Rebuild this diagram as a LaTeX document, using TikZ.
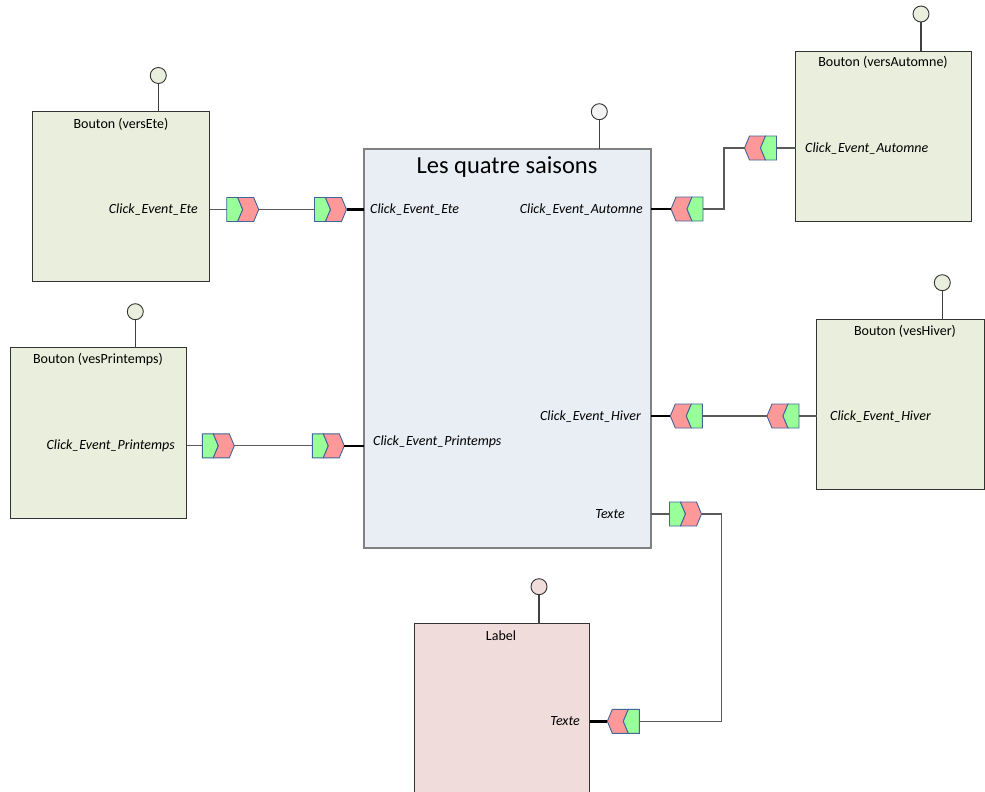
\documentclass[tikz,border=0pt]{standalone}
\usepackage{fontspec}
\setmainfont{Carlito}
\usetikzlibrary{calc}
\definecolor{boxgreen}{HTML}{E9EFDC}
\definecolor{boxblue}{HTML}{E9EDF4}
\definecolor{boxpink}{HTML}{F0DCDA}
\definecolor{pgreen}{HTML}{99FF99}
\definecolor{pred}{HTML}{FF9999}
\definecolor{pline}{HTML}{41659A}
\definecolor{cline}{HTML}{5A5A5A}
\tikzset{
  comp/.style={draw=black!80, line width=1pt, anchor=north west, inner sep=0pt, outer sep=0pt},
  centralbox/.style={draw=black!50, line width=2pt, anchor=north west, inner sep=0pt, outer sep=0pt, fill=boxblue},
  lolli/.style={circle, draw=black!80, line width=0.9pt, minimum size=16pt, inner sep=0pt, outer sep=0pt},
  stem/.style={draw=black!75, line width=1.1pt},
  portnode/.style={rectangle, minimum width=32pt, minimum height=24pt, inner sep=0pt, outer sep=0pt},
  portline/.style={draw=pline, line width=0.9pt, line join=miter},
  thinc/.style={draw=cline, line width=1.1pt},
  thickc/.style={draw=black, line width=2.4pt},
  titletext/.style={font=\fontsize{14}{16}\selectfont, inner sep=0pt},
  porttext/.style={font=\fontsize{14}{16}\selectfont\itshape, inner sep=0pt},
}
\newcommand\portR[2]{%
  \node[portnode] (#1) at (#2) {};
  \filldraw[portline, fill=pgreen] ($(#1.center)+(-16,-12)$) -- ++(11,0) -- ++(5,12) -- ++(-5,12) -- ++(-11,0) -- cycle;
  \filldraw[portline, fill=pred] ($(#1.center)+(-5,-12)$) -- ++(16,0) -- ++(5,12) -- ++(-5,12) -- ++(-16,0) -- ++(5,-12) -- cycle;
}
\newcommand\portL[2]{%
  \node[portnode] (#1) at (#2) {};
  \filldraw[portline, fill=pred] ($(#1.center)+(-16,0)$) -- ++(5,-12) -- ++(16,0) -- ++(-5,12) -- ++(5,12) -- ++(-16,0) -- cycle;
  \filldraw[portline, fill=pgreen] ($(#1.center)+(5,-12)$) -- ++(11,0) -- ++(0,24) -- ++(-11,0) -- ++(-5,-12) -- cycle;
}
\begin{document}
\begin{tikzpicture}[x=1pt, y=-1pt]
\useasboundingbox (0,0) rectangle (985,792);
\clip (0,0) rectangle (985,792);

% components
\node[comp, fill=boxgreen, minimum width=177pt, minimum height=170pt] (bEte) at (32.5,111.5) {};
\node[comp, fill=boxgreen, minimum width=176pt, minimum height=171pt] (bPri) at (10.5,347.5) {};
\node[centralbox, minimum width=287pt, minimum height=399pt] (cen) at (364,149) {};
\node[comp, fill=boxgreen, minimum width=176pt, minimum height=170pt] (bAut) at (795.5,51.5) {};
\node[comp, fill=boxgreen, minimum width=168pt, minimum height=170pt] (bHiv) at (816.5,319.5) {};
\node[comp, fill=boxpink, minimum width=175pt, minimum height=200pt] (bLab) at (414.5,623.5) {};

% lollipops
\node[lolli, fill=boxgreen] (lEte) at (158.3,75.5) {};
\node[lolli, fill=boxgreen] (lPri) at (135.3,311.7) {};
\node[lolli, fill=white!95!black] (lCen) at (599.3,111.7) {};
\node[lolli, fill=boxgreen] (lAut) at (921,14) {};
\node[lolli, fill=boxgreen] (lHiv) at (942.3,282.7) {};
\node[lolli, fill=boxpink] (lLab) at (539,586.7) {};
\draw[stem] (lEte.south) -- (lEte.south |- bEte.north);
\draw[stem] (lPri.south) -- (lPri.south |- bPri.north);
\draw[stem] (lCen.south) -- (lCen.south |- cen.north);
\draw[stem] (lAut.south) -- (lAut.south |- bAut.north);
\draw[stem] (lHiv.south) -- (lHiv.south |- bHiv.north);
\draw[stem] (lLab.south) -- (lLab.south |- bLab.north);

% titles
\node[titletext] (tEte) at (121,124) {Bouton (versEte)};
\node[titletext] (tPri) at (98,360) {Bouton (vesPrintemps)};
\node[titletext] (tAut) at (883,62) {Bouton (versAutomne)};
\node[titletext] (tHiv) at (905,331) {Bouton (vesHiver)};
\node[titletext] (tLab) at (501,636) {Label};
\node[font=\fontsize{24.5}{28}\selectfont, inner sep=0pt] (tCen) at (507,167) {Les quatre saisons};

% port labels
\node[porttext, anchor=east] (pEte) at (198,210) {Click\_Event\_Ete};
\node[porttext, anchor=east] (pPri) at (175,446) {Click\_Event\_Printemps};
\node[porttext, anchor=west] (pAut) at (805,149) {Click\_Event\_Automne};
\node[porttext, anchor=west] (pHiv) at (830,417) {Click\_Event\_Hiver};
\node[porttext, anchor=west] (cEte) at (370,210) {Click\_Event\_Ete};
\node[porttext, anchor=east] (cAut) at (643,210) {Click\_Event\_Automne};
\node[porttext, anchor=east] (cHiv) at (641,417) {Click\_Event\_Hiver};
\node[porttext, anchor=west] (cPri) at (373,442) {Click\_Event\_Printemps};
\node[porttext, anchor=east] (cTex) at (625,514) {Texte};
\node[porttext, anchor=east] (lTex) at (580,721) {Texte};

% connector coordinates
\coordinate (kAut) at (724,0);
\coordinate (kTex) at (721.7,0);

% ports
\portR{eA}{242.7,209.5}
\portR{eB}{330.5,209.5}
\portR{pA}{218.3,445.8}
\portR{pB}{328.3,445.8}
\portL{aA}{687,209}
\portL{aB}{760.5,148}
\portL{hvA}{686.3,416}
\portL{hvB}{783,416}
\portR{xA}{685.5,514}
\portL{xB}{623.3,721.3}

% connectors
\draw[thinc] (bEte.east |- eA) -- (eA.west);
\draw[thinc] (eA.east) -- (eB.west);
\draw[thickc] (eB.east) -- (cen.west |- eB);

\draw[thinc] (bPri.east |- pA) -- (pA.west);
\draw[thinc] (pA.east) -- (pB.west);
\draw[thickc] (pB.east) -- (cen.west |- pB);

\draw[thickc] (cen.east |- aA) -- (aA.west);
\draw[thinc] (aA.east) -| (kAut |- aB) -- (aB.west);
\draw[thinc] (aB.east) -- (bAut.west |- aB);

\draw[thickc] (cen.east |- hvA) -- (hvA.west);
\draw[thinc] (hvA.east) -- (hvB.west);
\draw[thinc] (hvB.east) -- (bHiv.west |- hvB);

\draw[thinc] (cen.east |- xA) -- (xA.west);
\draw[thinc] (xA.east) -| (kTex |- xB) -- (xB.east);
\draw[thickc] (bLab.east |- xB) -- (xB.west);
\end{tikzpicture}
\end{document}
